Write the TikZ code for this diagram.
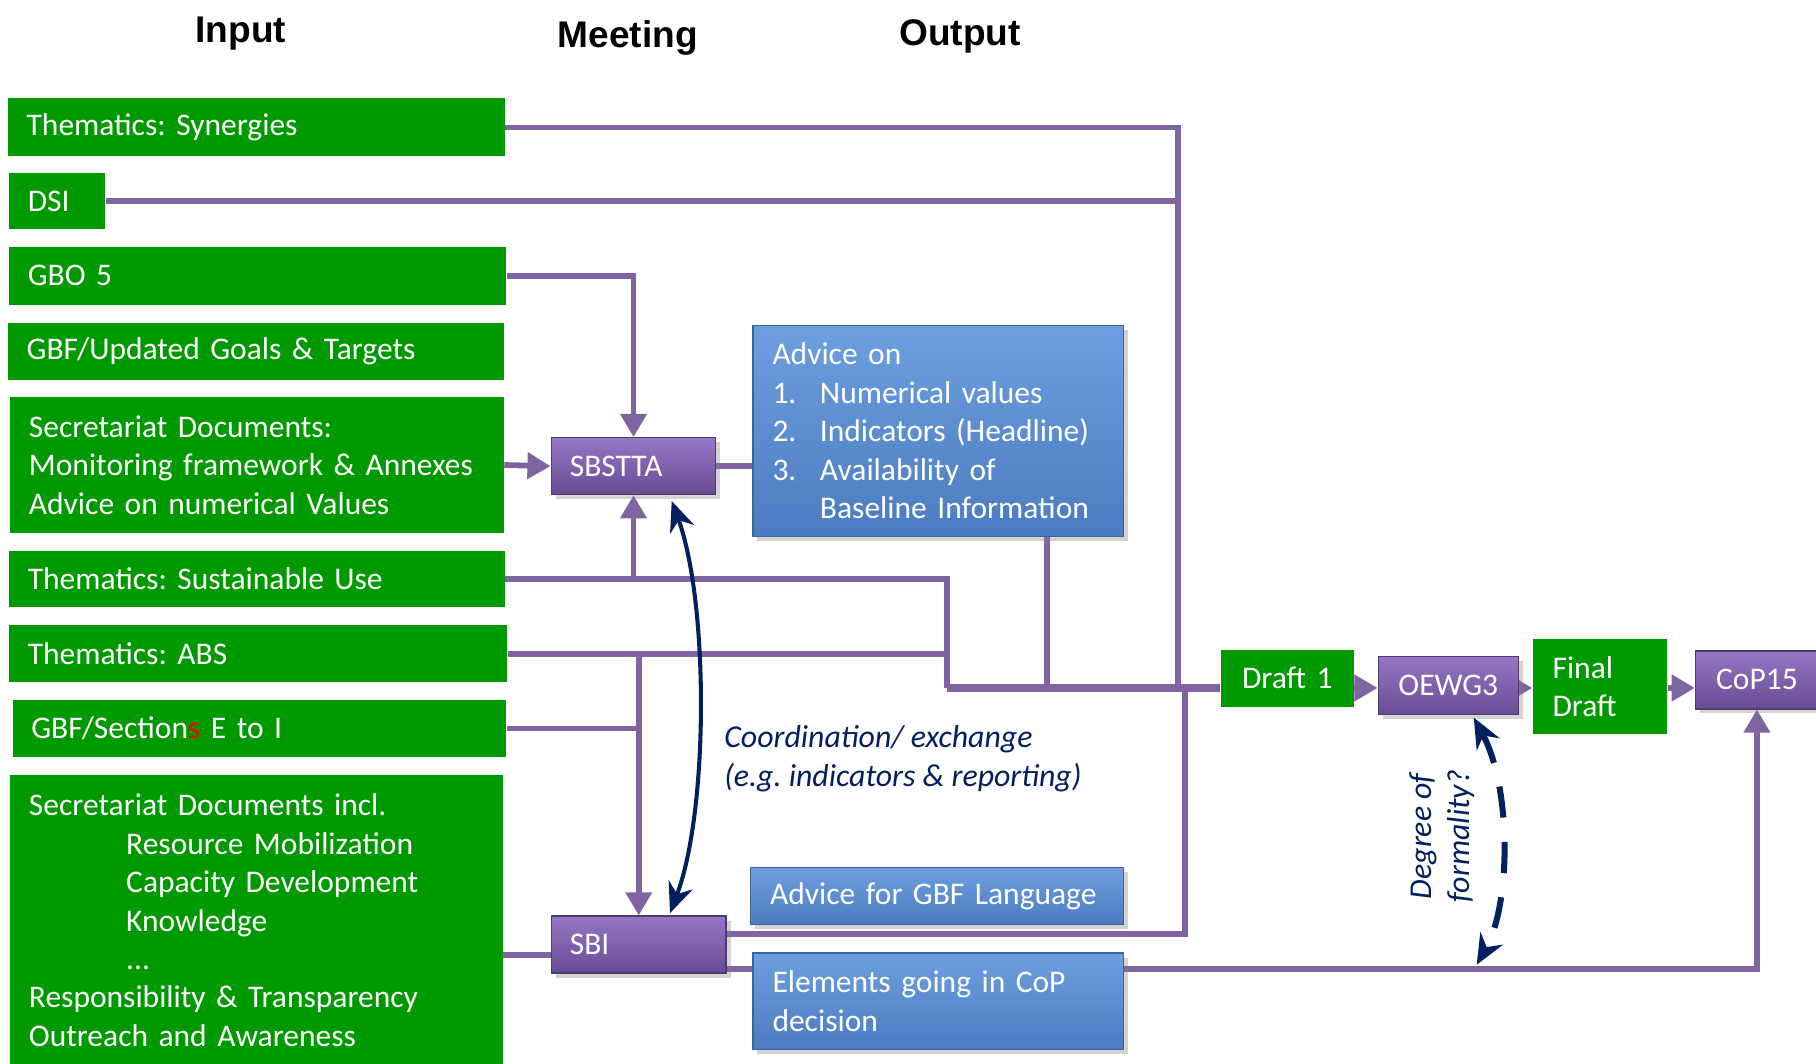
\documentclass[tikz,border=0pt]{standalone}
\usepackage{fontspec}
\setmainfont{Carlito}
\newfontfamily\titlefont{Liberation Sans}
\usetikzlibrary{arrows.meta,shadows,backgrounds,calc}
\definecolor{gbgreen}{HTML}{009900}
\definecolor{plc}{HTML}{8064A2}
\definecolor{navyc}{HTML}{002060}
\definecolor{ptop}{HTML}{9676C6}
\definecolor{pbot}{HTML}{674C92}
\definecolor{pdark}{HTML}{4F3B70}
\definecolor{btop}{HTML}{6E9FE0}
\definecolor{bbot}{HTML}{4A7CBF}
\definecolor{bdark}{HTML}{3A6597}
\frenchspacing
\begin{document}
\begin{tikzpicture}[x=0.5pt,y=-0.5pt,
  txt/.style={font=\fontsize{13.6}{16.6}\selectfont},
  gbox/.style={txt, fill=gbgreen, text=white, inner xsep=8pt, inner ysep=0pt, align=left},
  pbox/.style={txt, text=white, top color=ptop, bottom color=pbot, draw=pdark, line width=0.6pt,
    inner xsep=8pt, inner ysep=0pt, align=left, drop shadow={opacity=0.35, shadow xshift=2pt, shadow yshift=-2pt}},
  bbox/.style={txt, text=white, top color=btop, bottom color=bbot, draw=bdark, line width=0.6pt,
    inner xsep=8.5pt, inner ysep=0pt, align=left, drop shadow={opacity=0.35, shadow xshift=2pt, shadow yshift=-2pt}},
  ttl/.style={font=\titlefont\bfseries\fontsize{16}{19}\selectfont, text=black},
  lab/.style={txt, text=navyc, font=\itshape\fontsize{13.75}{16.6}\selectfont, inner sep=0pt},
  pl/.style={draw=plc, line width=2.5pt},
  arr/.style={pl, -{Triangle[length=10pt,width=11pt]}},
  navarr/.style={draw=navyc, line width=1.75pt, {Stealth[length=13pt,width=11pt]}-{Stealth[length=13pt,width=11pt]}}
]
\useasboundingbox (0,0) rectangle (1568,918);

% titles
\node[ttl] (tin) at (208,29) {Input};
\node[ttl] (tmeet) at (542,33) {Meeting};
\node[ttl] (tout) at (829,31) {Output};

% input boxes
\node[gbox, text width=198.5pt, minimum height=25pt] (syn) at (221.5,110) {Thematics: Synergies};
\node[gbox, text width=25.5pt, minimum height=24.5pt] (dsi) at (49.5,173.5) {DSI};
\node[gbox, text width=198.5pt, minimum height=25pt] (gbo) at (222.5,238) {GBO 5};
\node[gbox, text width=198pt, minimum height=24.5pt] (gbf) at (221,303.5) {GBF/Updated Goals \& Targets};
\node[gbox, text width=197pt, minimum height=58.5pt] (sec) at (222,401.5) {Secretariat Documents:\\Monitoring framework \& Annexes\\Advice on numerical Values};
\node[gbox, text width=198pt, minimum height=24pt] (sus) at (222,500) {Thematics: Sustainable Use};
\node[gbox, text width=199pt, minimum height=24.5pt] (abs) at (223,564.5) {Thematics: ABS};
\node[gbox, text width=197pt, minimum height=25pt] (sect) at (224,629) {GBF/Section\textcolor{red}{s} E to I};
\node[gbox, text width=196.5pt, minimum height=125.5pt] (sec2) at (221.5,794.5) {Secretariat Documents incl.\\
  \hspace*{42pt}Resource Mobilization\\
  \hspace*{42pt}Capacity Development\\
  \hspace*{42pt}Knowledge\\
  \hspace*{42pt}...\\
  Responsibility \& Transparency\\
  Outreach and Awareness};

% meetings
\node[pbox, text width=55pt, minimum height=24.5pt] (sbstta) at (547,402.5) {SBSTTA};
\node[pbox, text width=59.5pt, minimum height=24.5pt] (sbi) at (551.5,815.5) {SBI};
\node[pbox, text width=56.5pt, inner xsep=2pt, align=center, minimum height=25pt] (oewg) at (1250.5,592) {OEWG3};
\node[pbox, text width=49pt, inner xsep=2pt, align=center, minimum height=25pt] (cop) at (1517,587) {CoP15};

% outputs
\node[bbox, text width=143pt, minimum height=91pt] (adv) at (810,372) {Advice on\\
  \makebox[20.5pt][l]{1.}Numerical values\\
  \makebox[20.5pt][l]{2.}Indicators (Headline)\\
  \makebox[20.5pt][l]{3.}Availability of\\
  \hspace*{20.5pt}Baseline Information};
\node[bbox, text width=144pt, minimum height=24.5pt] (gbfl) at (809,773.5) {Advice for GBF Language};
\node[bbox, text width=143pt, minimum height=41.5pt] (elem) at (810,864.5) {Elements going in CoP\\decision};

\node[gbox, text width=53.5pt, inner xsep=2pt, align=center, minimum height=24.5pt] (d1) at (1111.5,585.5) {Draft 1};
\node[gbox, text width=41pt, inner xsep=8.5pt, minimum height=41pt] (fd) at (1381.5,593) {Final\\Draft};

% labels
\node[lab, anchor=west, align=left] (coord) at (625,655) {Coordination/ exchange\\(e.g. indicators \& reporting)};
\node[lab, rotate=90, align=center] (deg) at (1245,722) {Degree of\\formality?};

% junction coordinates
\coordinate (jn1) at (1017,594);
\coordinate (m1) at (818,594);
\coordinate (jn2) at (1023,594);
\coordinate (a1) at (904,0);
\coordinate (elstart) at ($(sbi.south east)+(0,-4)$);
\coordinate (degend) at (1275,833);

\begin{scope}[on background layer]
\draw[pl] (syn.east) -| (jn1);
\draw[pl] (dsi.east) -- (dsi.east -| jn1);
\draw[arr] (gbo.east) -| (sbstta.north);
\draw[arr] (sec.east) -- (sbstta.west);
\draw[arr] (sus.east) -| (sbstta.south);
\draw[pl] (sus.east) -| (m1);
\draw[pl] (abs.east) -- (abs.east -| m1);
\draw[arr] (abs.east -| sbi.north) -- (sbi.north);
\draw[pl] (sect.east) -- (sect.east -| sbi.north);
\draw[pl] ($(sec2.east |- sbi.west)+(0,9)$) -- ($(sbi.west)+(0,9)$);
\draw[pl] (sbstta.east) -- (sbstta.east -| adv.west);
\draw[pl] (adv.south -| a1) -- (a1 |- m1);
\draw[pl, line width=3.5pt] (m1) -- (m1 -| d1.west);
\draw[pl] ($(sbi.east)+(0,-9)$) -| (jn2);
\draw[arr] (elstart) -| (cop.south);
\draw[arr] (d1.east |- m1) -- (oewg.west |- m1);
\draw[arr] (oewg.east |- m1) -- (fd.west |- m1);
\draw[arr] (fd.east |- m1) -- (cop.west |- m1);
\end{scope}

% navy arrows
\draw[navarr] ($(sbstta.south)+(33,5)$) .. controls (612,520) and (612,700) .. ($(sbi.north)+(27,-2)$);
\draw[navarr, line width=2.6pt, dash pattern=on 13.5pt off 10.5pt] ($(oewg.south)+(22,2)$) .. controls (1305,680) and (1305,780) .. (degend);
\end{tikzpicture}
\end{document}
